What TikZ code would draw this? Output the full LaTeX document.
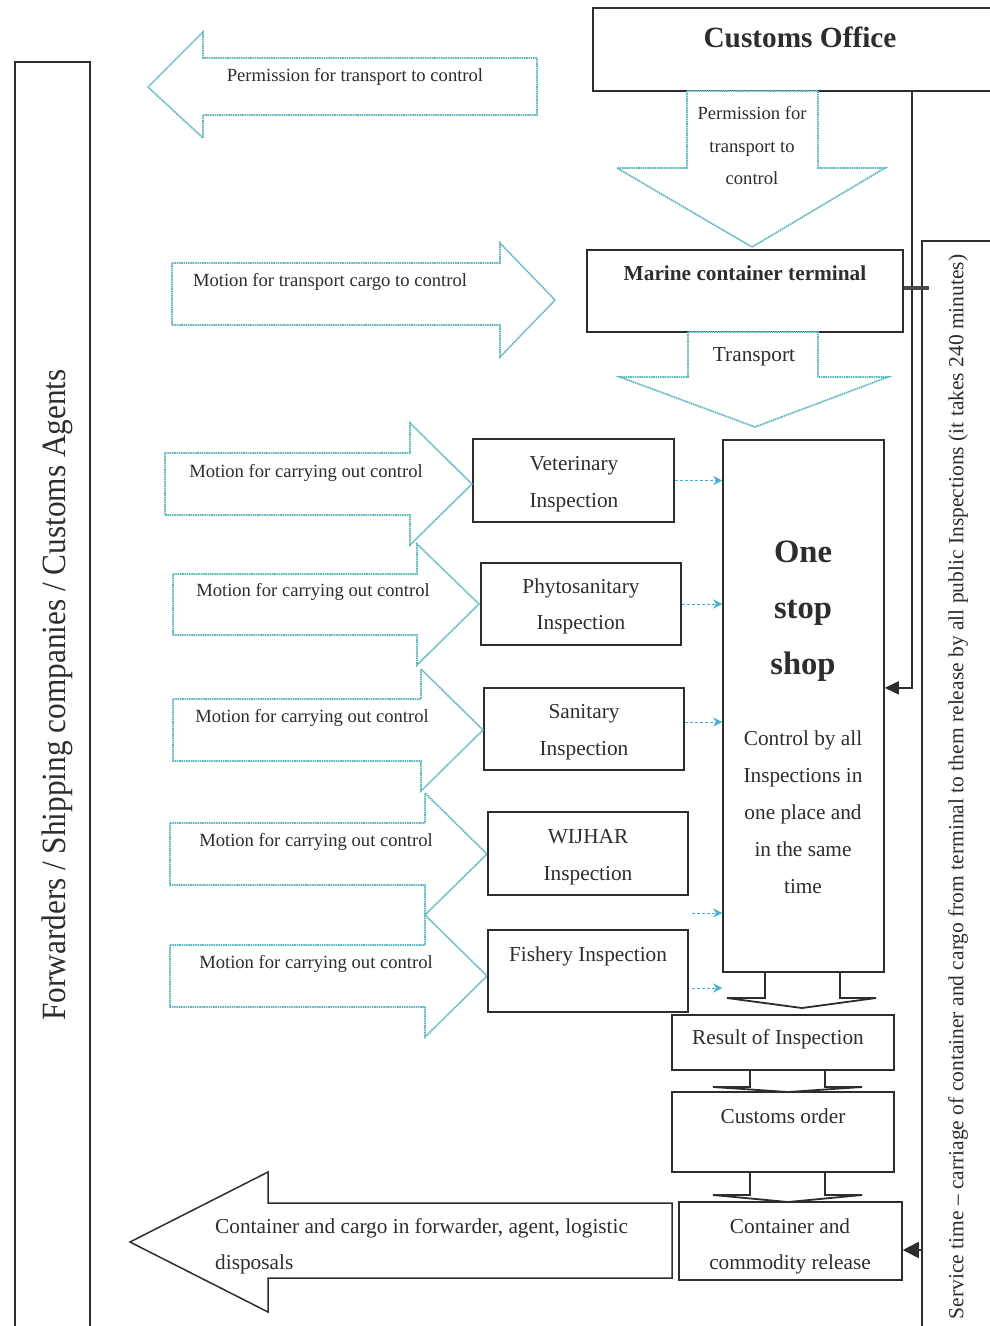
\documentclass[tikz,border=0pt]{standalone}
\usepackage{fontspec}
\setmainfont{Liberation Serif}
\usetikzlibrary{arrows.meta,calc}
\definecolor{ink}{RGB}{45,45,45}
\definecolor{tealA}{RGB}{95,185,190}
\definecolor{tealB}{RGB}{70,175,215}
\begin{document}
\begin{tikzpicture}[x=1pt,y=-1pt,
  box/.style={draw=ink,line width=1.5pt,inner sep=0pt},
  blk/.style={draw=tealA,line width=1.7pt,dash pattern=on 1.6pt off 0.7pt,fill=white},
  gblk/.style={draw=ink,line width=1.8pt,line join=miter},
  conn/.style={draw=ink,line width=1.6pt},
  sm/.style={draw=tealB,densely dashed,line width=1pt,-{Stealth[length=9pt,width=9pt]}},
  tA/.style={anchor=base,text=ink,font=\fontsize{18.6}{22}\selectfont,inner sep=0pt,yshift=-6.2pt},
  tB/.style={anchor=base,text=ink,font=\fontsize{21.3}{25}\selectfont,inner sep=0pt,yshift=-7.1pt},
  tBw/.style={anchor=base west,text=ink,font=\fontsize{21.3}{25}\selectfont,inner sep=0pt,yshift=-7.1pt},
  tBold/.style={anchor=base,text=ink,font=\fontsize{21.3}{25}\selectfont\bfseries,inner sep=0pt,yshift=-7.1pt},
  tBig/.style={anchor=base,text=ink,font=\fontsize{32.6}{36}\selectfont\bfseries,inner sep=0pt,yshift=-10.8pt}
]
\useasboundingbox (0,0) rectangle (989,1326);

% side panels
\node[box,minimum width=75,minimum height=1283] (lp) at (52.5,703.5) {};
\node[box,minimum width=78,minimum height=1104] (rp) at (961,793) {};
\node[rotate=90,text=ink,inner sep=0pt,font=\fontsize{34}{38}\selectfont] (lpt) at (57,695) {\scalebox{0.92}[1]{Forwarders / Shipping companies / Customs Agents}};
\node[rotate=90,text=ink,inner sep=0pt,font=\fontsize{21.5}{25}\selectfont] (rpt) at (958,787) {Service time -- carriage of container and cargo from terminal to them release by all public Inspections (it takes 240 minutes)};

% main boxes
\node[box,minimum width=407,minimum height=83] (cust) at (796.5,49.5) {};
\node[box,minimum width=316,minimum height=82] (mct) at (745,291) {};
\node[box,minimum width=161,minimum height=532] (oss) at (803.5,706) {};
\node[box,minimum width=201,minimum height=83] (vet) at (573.5,480.5) {};
\node[box,minimum width=200,minimum height=82] (phy) at (581,604) {};
\node[box,minimum width=200,minimum height=82] (san) at (584,729) {};
\node[box,minimum width=200,minimum height=83] (wij) at (588,853.5) {};
\node[box,minimum width=200,minimum height=82] (fis) at (588,971) {};
\node[box,minimum width=222,minimum height=55] (res) at (783,1042.5) {};
\node[box,minimum width=222,minimum height=80] (cor) at (783,1132) {};
\node[box,minimum width=223,minimum height=78] (rel) at (790.5,1241) {};

% box texts
\node[anchor=base,text=ink,font=\fontsize{29.3}{33}\selectfont\bfseries,inner sep=0pt,yshift=-9.7pt] (custt) at (800,38) {Customs Office};
\node[tBold] (mctt) at (745,273) {Marine container terminal};
\node[tBig] (oss1) at (803,552) {One};
\node[tBig] (oss2) at (803,608) {stop};
\node[tBig] (oss3) at (803,664) {shop};
\node[tB] (oss4) at (803,738) {Control by all};
\node[tB] (oss5) at (803,775) {Inspections in};
\node[tB] (oss6) at (803,812) {one place and};
\node[tB] (oss7) at (803,849) {in the same};
\node[tB] (oss8) at (803,886) {time};
\node[tB] (vet1) at (574,463) {Veterinary};
\node[tB] (vet2) at (574,500) {Inspection};
\node[tB] (phy1) at (581,586) {Phytosanitary};
\node[tB] (phy2) at (581,622) {Inspection};
\node[tB] (san1) at (584,711) {Sanitary};
\node[tB] (san2) at (584,748) {Inspection};
\node[tB] (wij1) at (588,836) {WIJHAR};
\node[tB] (wij2) at (588,873) {Inspection};
\node[tB] (fis1) at (588,954) {Fishery Inspection};
\node[tB] (rest) at (778,1037) {Result of Inspection};
\node[tB] (cort) at (783,1116) {Customs order};
\node[tB] (rel1) at (790,1226) {Container and};
\node[tB] (rel2) at (790,1262) {commodity release};

% teal block arrows
\draw[blk] (537,58) -- (203,58) -- (203,32) -- (148,87) -- (203,138) -- (203,115) -- (537,115) -- cycle;
\node[tA] (l1t) at (355,75) {Permission for transport to control};
\draw[blk] (172,263) -- (500,263) -- (500,243) -- (555,300) -- (500,357) -- (500,325) -- (172,325) -- cycle;
\node[tA] (r0t) at (330,280) {Motion for transport cargo to control};
\draw[blk] (687,91) -- (687,168) -- (617,168) -- (752,247) -- (885,168) -- (818,168) -- (818,91) -- cycle;
\node[tA] (d1a) at (752,113) {Permission for};
\node[tA] (d1b) at (752,146) {transport to};
\node[tA] (d1c) at (752,178) {control};
\draw[blk] (688,332) -- (688,377) -- (620,377) -- (755,427) -- (888,377) -- (818,377) -- (818,332) -- cycle;
\node[tB] (d2t) at (754,354) {Transport};

\draw[blk] (165,453) -- (410,453) -- (410,423) -- (472,484) -- (410,545) -- (410,515) -- (165,515) -- cycle;
\draw[blk] (173,574) -- (417,574) -- (417,544) -- (479,604) -- (417,665) -- (417,635) -- (173,635) -- cycle;
\draw[blk] (173,699) -- (421,699) -- (421,669) -- (483,730) -- (421,791) -- (421,761) -- (173,761) -- cycle;
\draw[blk] (170,823) -- (425,823) -- (425,793) -- (487,854) -- (425,915) -- (425,885) -- (170,885) -- cycle;
\draw[blk] (170,945) -- (425,945) -- (425,915) -- (487,976) -- (425,1037) -- (425,1007) -- (170,1007) -- cycle;
\node[tA] (a1t) at (306,471) {Motion for carrying out control};
\node[tA] (a2t) at (313,590) {Motion for carrying out control};
\node[tA] (a3t) at (312,716) {Motion for carrying out control};
\node[tA] (a4t) at (316,840) {Motion for carrying out control};
\node[tA] (a5t) at (316,962) {Motion for carrying out control};

% small dashed arrows into one stop shop
\draw[sm] (vet.east) -- (vet.east -| oss.west);
\draw[sm] (phy.east) -- (phy.east -| oss.west);
\draw[sm] ($(san.east)+(0,-7)$) -- ($(san.east -| oss.west)+(0,-7)$);
\coordinate (w1) at (692,913);
\coordinate (f1) at (692,988);
\draw[sm] (w1) -- (w1 -| oss.west);
\draw[sm] (f1) -- (f1 -| oss.west);

% gray block arrows between bottom boxes
\draw[gblk] (765,972) -- (765,998) -- (727,998) -- (802,1008) -- (876,998) -- (840,998) -- (840,972);
\draw[gblk] (750,1070) -- (750,1087) -- (713,1087) -- (788,1092) -- (862,1087) -- (825,1087) -- (825,1070);
\draw[gblk] (750,1172) -- (750,1195) -- (713,1195) -- (788,1202) -- (862,1195) -- (825,1195) -- (825,1172);

% bottom left arrow
\draw[draw=ink,line width=1.5pt,line join=miter] (672,1203) -- (268,1203) -- (268,1172) -- (130,1242) -- (268,1312) -- (268,1278) -- (672,1278) -- cycle;
\node[tBw] (bl1) at (215,1226) {Container and cargo in forwarder, agent, logistic};
\node[tBw] (bl2) at (215,1262) {disposals};

% connectors
\coordinate (vx) at (912,0);
\draw[conn,-{Triangle[length=14pt,width=13pt]}] (cust.south -| vx) |- ($(oss.north east)!0.466!(oss.south east)$);
\draw[draw=black!70,line width=4.5pt] ($(mct.east)+(0,-3)$) -- ($(mct.east -| rp.west)+(8,-3)$);
\draw[conn,-{Triangle[length=16pt,width=16pt]}] ($(rp.west |- rel.east)+(0,9)$) -- ($(rel.east)+(0,9)$);
\end{tikzpicture}
\end{document}
